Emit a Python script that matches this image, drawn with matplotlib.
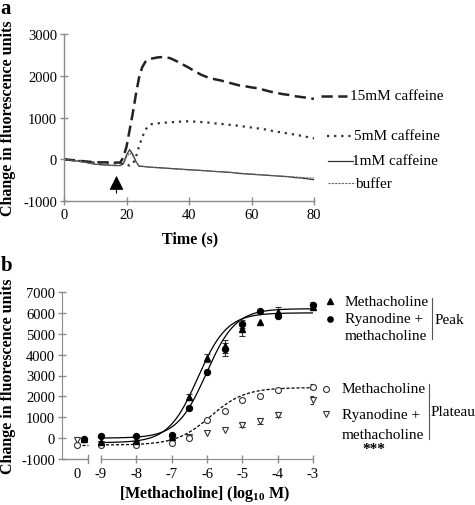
import numpy as np
import matplotlib
matplotlib.use("Agg")
import matplotlib.pyplot as plt
from matplotlib.lines import Line2D

plt.rcParams['font.family'] = ['Liberation Serif', 'DejaVu Serif']
plt.rcParams['axes.unicode_minus'] = False
plt.rcParams['mathtext.fontset'] = 'custom'
plt.rcParams['mathtext.rm'] = 'Liberation Serif'
plt.rcParams['mathtext.bf'] = 'Liberation Serif:bold'

# ---------------- Panel a data ----------------
time_s = [0, 2, 4, 6, 8, 10, 12, 14, 16, 18, 19, 20, 21, 22, 23, 24, 25, 26, 27, 28,
          30, 32, 34, 36, 38, 40, 42, 44, 46, 48, 50, 52, 54, 56, 58, 60, 62, 64, 66,
          68, 70, 72, 74, 76, 78, 80]
caf15 = [0, -15, -30, -45, -60, -70, -75, -75, -80, -80, 50, 300, 700, 1100, 1550, 1950,
         2200, 2330, 2390, 2410, 2440, 2450, 2420, 2350, 2270, 2190, 2100, 2020, 1960,
         1920, 1890, 1850, 1810, 1770, 1750, 1720, 1700, 1660, 1620, 1590, 1560, 1540,
         1510, 1490, 1470, 1445]
caf5 = [0, -15, -35, -50, -65, -80, -90, -95, -100, -105, -110, -130, -150, -120, 50,
        300, 520, 700, 800, 840, 860, 875, 885, 895, 905, 910, 900, 890, 880, 860, 850,
        830, 820, 800, 780, 760, 740, 720, 690, 660, 640, 610, 590, 560, 530, 500]
caf1 = [0, -20, -40, -60, -90, -120, -130, -140, -150, -150, -100, 100, 230, 120, -50,
        -170, -170, -180, -185, -190, -200, -210, -220, -230, -240, -250, -260, -270,
        -280, -290, -300, -310, -320, -340, -350, -360, -370, -380, -390, -400, -410,
        -420, -440, -450, -470, -490]
buffer = [0, -20, -45, -65, -95, -120, -135, -145, -150, -155, -120, 50, 150, 80, -60,
          -160, -165, -175, -185, -195, -205, -215, -225, -235, -245, -255, -262, -268,
          -278, -292, -298, -305, -318, -330, -345, -352, -365, -372, -385, -395, -405,
          -415, -425, -435, -445, -450]
arrow_time = 16.8

# ---------------- Panel b data ----------------
log_conc = [-6.5, -6.0, -5.5, -5.0, -4.5, -4.0, -3.0]
log_conc_low = [-9.0, -8.0, -7.0]
low_x = log_conc_low + log_conc
# peak, methacholine (filled triangles)
peak_mch = [-200, -120, 50, 1955, 3825, 4400, 5230, 5550, 6050, 6300]
peak_mch_err = [0, 0, 0, 150, 200, 300, 350, 0, 250, 150]
peak_mch_zero = -20
# peak, ryanodine + methacholine (filled circles)
peak_rya = [100, 100, 165, 1430, 3185, 4250, 5470, 6075, 5870, 6380]
peak_rya_err = [0, 0, 0, 0, 0, 300, 200, 0, 0, 150]
peak_rya_zero = -40
# plateau, methacholine (open circles)
plat_mch = [-310, -310, -250, 20, 880, 1285, 1840, 2035, 2305, 2465]
plat_mch_err = [0, 0, 0, 0, 0, 0, 0, 0, 0, 120]
plat_mch_zero = -330
# plateau, ryanodine + methacholine (open down-triangles)
plat_rya = [-300, -300, -40, 70, 246, 405, 630, 810, 1110, 1840]
plat_rya_err = [0, 0, 0, 0, 0, 0, 100, 150, 120, 200]
plat_rya_zero = -75

# fitted logistic parameters: bottom, top, logEC50, hill
fit_peak_mch = (-220, 6000, -6.26, 1.05)
fit_peak_rya = (0, 6200, -6.02, 1.05)
fit_plat_mch = (-330, 2420, -5.9, 0.9)

x_ticks_b = [-9, -8, -7, -6, -5, -4, -3]
zero_pos = -9.68

W, H = 475, 506
fig = plt.figure(figsize=(W / 100, H / 100), dpi=100)

def fx(x):
    return x / W

def fy(y):
    return 1 - y / H

spine_col = '#8a8a8a'

# ---------------- Panel a ----------------
axa = fig.add_axes([fx(64), fy(202), 250 / W, 167 / H])
axa.plot(time_s, caf15, color='#222222', lw=1.8, dashes=(4.5, 2.2))
axa.plot(time_s, caf5, color='#333333', lw=1.6, dashes=(1, 2.2))
axa.plot(time_s, caf1, color='#333333', lw=0.9)
axa.plot(time_s, buffer, color='#666666', lw=0.8, dashes=(2, 1))
axa.set_xlim(0, 80)
axa.set_ylim(-1000, 3000)
axa.set_xticks([0, 20, 40, 60, 80])
axa.set_yticks([-1000, 0, 1000, 2000, 3000])
for s in ['top', 'right']:
    axa.spines[s].set_visible(False)
for s in ['left', 'bottom']:
    axa.spines[s].set_color(spine_col)
    axa.spines[s].set_linewidth(1.0)
axa.tick_params(direction='inout', length=6, width=1.0, color=spine_col,
                labelsize=10.5, pad=2)
axa.annotate('', xy=(arrow_time, -330), xytext=(arrow_time, -880),
             arrowprops=dict(arrowstyle='-|>', color='black', lw=0.8,
                             mutation_scale=22))

# legend for panel a (line samples + labels)
leg_a = [((321, 347), 97, dict(color='#222222', lw=1.8, dashes=(4.5, 2.2)), '15mM caffeine', 350),
         ((327, 354), 137, dict(color='#333333', lw=1.6, dashes=(1, 2.2)), '5mM caffeine', 354),
         ((328, 353), 162, dict(color='#333333', lw=0.9), '1mM caffeine', 352),
         ((328, 355), 184, dict(color='#666666', lw=0.8, dashes=(2, 1)), 'buffer', 355)]
for (x0, x1), yy, style, label, tx in leg_a:
    fig.add_artist(Line2D([fx(x0), fx(x1)], [fy(yy), fy(yy)], **style))
    fig.text(fx(tx), fy(yy), label, fontsize=11, va='center', ha='left')

fig.text(fx(190), fy(239), 'Time (s)', fontsize=11.5, fontweight='bold',
         ha='center', va='center')
fig.text(fx(8), fy(118), 'Change in fluorescence units', fontsize=11.5,
         fontweight='bold', rotation=90, ha='center', va='center')
fig.text(fx(6), fy(9), 'a', fontsize=15, fontweight='bold', ha='center', va='center')

# ---------------- Panel b ----------------
axb = fig.add_axes([fx(62), fy(460), 251 / W, 167 / H])
xl = (-10.104, -3.0)
axb.set_xlim(*xl)
axb.set_ylim(-1000, 7000)
axb.set_yticks(np.arange(-1000, 7001, 1000))
axb.set_xticks([zero_pos] + x_ticks_b)
axb.set_xticklabels(['0'] + [str(v) for v in x_ticks_b])
for s in ['top', 'right']:
    axb.spines[s].set_visible(False)
axb.spines['left'].set_color(spine_col)
axb.spines['bottom'].set_color(spine_col)
axb.spines['bottom'].set_bounds(-9, -3)
axb.tick_params(direction='inout', length=6, width=1.0, color=spine_col,
                labelsize=10.5, pad=2)
axb.tick_params(axis='x', pad=3)
# hide tick mark at the "0" label, draw the broken-axis first segment
axb.get_xticklines()[0].set_visible(False)
axb.get_xticklines()[1].set_visible(False)
brk = -9.37
axb.plot([xl[0], brk], [-1000, -1000], color=spine_col, lw=1.0, clip_on=False)
axb.plot([brk, brk], [-1000 - 170, -1000 + 170], color=spine_col, lw=1.0, clip_on=False)

def logistic(x, p):
    b, t, ec, h = p
    return b + (t - b) / (1 + 10 ** ((ec - x) * h))

xs = np.linspace(-9, -3, 300)
axb.plot(xs, logistic(xs, fit_peak_mch), color='black', lw=0.9)
axb.plot(xs, logistic(xs, fit_peak_rya), color='black', lw=0.9)
axb.plot(xs, logistic(xs, fit_plat_mch), color='black', lw=0.9, dashes=(2.5, 1.5))
axb.plot([zero_pos, brk], [logistic(-9, fit_plat_mch)] * 2, color='black', lw=0.9,
         dashes=(2.5, 1.5))

def errs(ax, x, y, e, **kw):
    xe = [a for a, b in zip(x, e) if b > 0]
    ye = [a for a, b in zip(y, e) if b > 0]
    ee = [b for b in e if b > 0]
    ax.errorbar(xe, ye, yerr=ee, fmt='none', ecolor='#333333', elinewidth=0.8,
                capsize=2.5, capthick=0.8)

errs(axb, low_x, plat_rya, plat_rya_err)
errs(axb, low_x, plat_mch, plat_mch_err)
errs(axb, low_x, peak_mch, peak_mch_err)
errs(axb, low_x, peak_rya, peak_rya_err)

axb.plot(low_x + [zero_pos], plat_rya + [plat_rya_zero], 'v', ms=4, mfc='white',
         mec='#333333', mew=0.8, ls='none', clip_on=False)
axb.plot(low_x + [zero_pos], plat_mch + [plat_mch_zero], 'o', ms=4.3, mfc='white',
         mec='#333333', mew=0.8, ls='none', clip_on=False)
axb.plot(low_x + [zero_pos + 0.2], peak_mch + [peak_mch_zero], '^', ms=4.3,
         color='black', ls='none', clip_on=False)
axb.plot(low_x + [zero_pos + 0.2], peak_rya + [peak_rya_zero], 'o', ms=4.3,
         color='black', ls='none', clip_on=False)

# legend panel b
fig.add_artist(Line2D([fx(330)], [fy(302)], marker='^', ms=3.8, color='black', ls='none'))
fig.add_artist(Line2D([fx(330)], [fy(320)], marker='o', ms=3.8, color='black', ls='none'))
fig.add_artist(Line2D([fx(326)], [fy(390)], marker='o', ms=4.3, mfc='white',
                      mec='#333333', mew=0.8, ls='none'))
fig.add_artist(Line2D([fx(326)], [fy(415)], marker='v', ms=3.8, mfc='white',
                      mec='#333333', mew=0.8, ls='none'))
fs_leg = 11
fig.text(fx(345), fy(302), 'Methacholine', fontsize=fs_leg, va='center')
fig.text(fx(345), fy(320), 'Ryanodine +', fontsize=fs_leg, va='center')
fig.text(fx(345), fy(337), 'methacholine', fontsize=fs_leg, va='center')
fig.add_artist(Line2D([fx(432), fx(432)], [fy(299), fy(340)], color='#555555', lw=0.8))
fig.text(fx(435), fy(320), 'Peak', fontsize=fs_leg, va='center')
fig.text(fx(342), fy(390), 'Methacholine', fontsize=fs_leg, va='center')
fig.text(fx(342), fy(415), 'Ryanodine +', fontsize=fs_leg, va='center')
fig.text(fx(342), fy(436), 'methacholine', fontsize=fs_leg, va='center')
fig.text(fx(374), fy(450), '***', fontsize=11, fontweight='bold', va='center', ha='center')
fig.add_artist(Line2D([fx(429), fx(429)], [fy(385), fy(440)], color='#555555', lw=0.8))
fig.text(fx(431), fy(413), 'Plateau', fontsize=fs_leg, va='center')

fig.text(fx(205), fy(494), r'[Methacholine] (log$_{\mathbf{10}}$ M)', fontsize=11.5,
         fontweight='bold', ha='center', va='center')
fig.text(fx(8), fy(376), 'Change in fluorescence units', fontsize=11.5,
         fontweight='bold', rotation=90, ha='center', va='center')
fig.text(fx(7), fy(266), 'b', fontsize=15, fontweight='bold', ha='center', va='center')

fig.savefig('out.png', dpi=100)
